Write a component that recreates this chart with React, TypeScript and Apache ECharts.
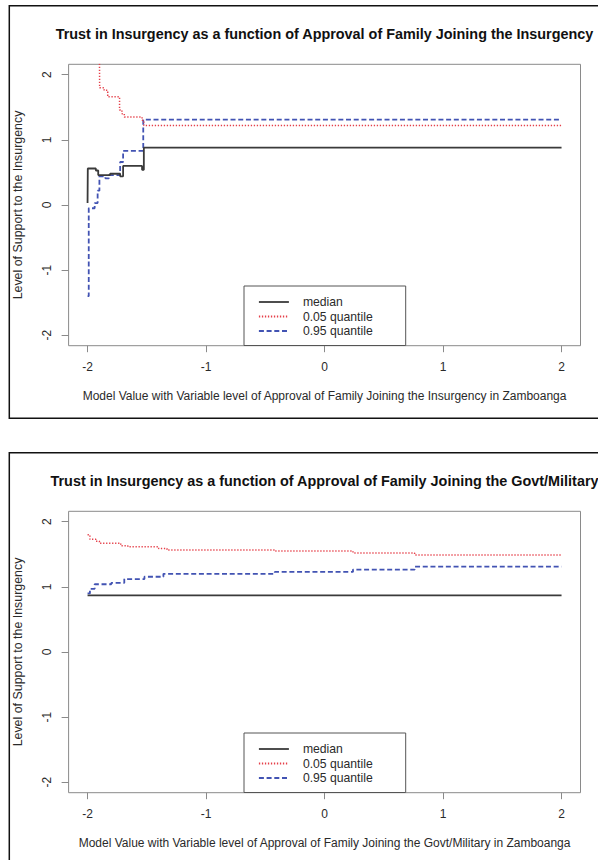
import React, { useEffect, useRef } from "react";
import * as echarts from "echarts";

// Axis ticks shared by both panels
const xTicks = [-2, -1, 0, 1, 2];
const yTicks = [-2, -1, 0, 1, 2];

// Panel 1: approval of family joining the insurgency (step breakpoints)
const insMedianX = [-2.0, -1.998, -1.93, -1.91, -1.81, -1.725, -1.7, -1.54, -1.525, 2.0];
const insMedianY = [0.03, 0.56, 0.53, 0.46, 0.48, 0.44, 0.6, 0.54, 0.88, 0.88];
const insLowX = [-1.9, -1.898, -1.86, -1.83, -1.73, -1.71, -1.69, -1.54, -1.525, 2.0];
const insLowY = [2.4, 1.8, 1.76, 1.66, 1.46, 1.4, 1.35, 1.3, 1.22, 1.22];
const insHighX = [-2.0, -1.99, -1.94, -1.915, -1.9, -1.85, -1.82, -1.725, -1.7, -1.53, 2.0];
const insHighY = [-1.4, -0.05, 0.03, 0.22, 0.44, 0.41, 0.46, 0.66, 0.83, 1.31, 1.31];

// Panel 2: approval of family joining the Govt/Military
const govMedianX = [-2.0, 2.0];
const govMedianY = [0.87, 0.87];
const govLowX = [-2.0, -1.98, -1.93, -1.9, -1.72, -1.66, -1.4, -1.33, -0.42, 0.24, 0.76, 2.0];
const govLowY = [1.8, 1.73, 1.7, 1.67, 1.63, 1.615, 1.59, 1.565, 1.55, 1.52, 1.49, 1.49];
const govHighX = [-2.0, -1.98, -1.94, -1.8, -1.69, -1.52, -1.36, -0.42, 0.24, 0.76, 2.0];
const govHighY = [0.9, 0.97, 1.04, 1.06, 1.12, 1.155, 1.2, 1.23, 1.265, 1.31, 1.31];

const seriesNames = ["median", "0.05 quantile", "0.95 quantile"];

const titles = [
  "Trust in Insurgency as a function of Approval of Family Joining the Insurgency",
  "Trust in Insurgency as a function of Approval of Family Joining the Govt/Military",
];
const xTitles = [
  "Model Value with Variable level of Approval of Family Joining the Insurgency in Zamboanga",
  "Model Value with Variable level of Approval of Family Joining the Govt/Military in Zamboanga",
];
const yTitle = "Level of Support to the Insurgency";

const FONT = '"Liberation Sans", Arial, Helvetica, sans-serif';
const PANEL_SHIFT = 447;

const lineStyles = [
  { color: "#3a3a3a", width: 1.8, type: "solid" },
  { color: "#e5404a", width: 1.5, type: [1.3, 1.7] },
  { color: "#4253b3", width: 1.8, type: [5, 2.7] },
];

function zip(xs: number[], ys: number[]) {
  return xs.map((x, i) => [x, ys[i]]);
}

export default function App() {
  const ref = useRef<HTMLDivElement>(null);

  useEffect(() => {
    if (!ref.current) return;
    const chart = echarts.init(ref.current, null, { renderer: "svg" });

    const panels = [
      [zip(insMedianX, insMedianY), zip(insLowX, insLowY), zip(insHighX, insHighY)],
      [zip(govMedianX, govMedianY), zip(govLowX, govLowY), zip(govHighX, govHighY)],
    ];

    const grids = [0, 1].map((i) => ({
      left: 68.6,
      right: 17.5,
      top: 64.3 + i * PANEL_SHIFT,
      height: 281.4,
      show: true,
      borderColor: "#8a8a8a",
      borderWidth: 1,
      backgroundColor: "transparent",
    }));

    const xAxes = [0, 1].map((i) => ({
      type: "value",
      gridIndex: i,
      position: "bottom",
      min: -2.16,
      max: 2.16,
      name: xTitles[i],
      nameLocation: "middle",
      nameGap: 44.5,
      nameTextStyle: { fontFamily: FONT, fontSize: 12, color: "#2a2a2a" },
      axisLine: { show: false, onZero: false },
      axisTick: {
        show: true,
        length: 6.5,
        customValues: xTicks,
        lineStyle: { color: "#8a8a8a", width: 1 },
      },
      axisLabel: {
        customValues: xTicks,
        margin: 15,
        fontFamily: FONT,
        fontSize: 12,
        color: "#2a2a2a",
        formatter: (v: number) => String(v),
      },
      splitLine: { show: false },
    }));

    const yAxes = [0, 1].map((i) => ({
      type: "value",
      gridIndex: i,
      position: "left",
      min: -2.16,
      max: 2.16,
      name: yTitle,
      nameLocation: "middle",
      nameGap: 45,
      nameTextStyle: { fontFamily: FONT, fontSize: 12.4, color: "#2a2a2a" },
      axisLine: { show: false, onZero: false },
      axisTick: {
        show: true,
        length: 7,
        customValues: yTicks,
        lineStyle: { color: "#8a8a8a", width: 1 },
      },
      axisLabel: {
        customValues: yTicks,
        rotate: 90,
        margin: 16,
        fontFamily: FONT,
        fontSize: 12,
        color: "#2a2a2a",
        formatter: (v: number) => String(v),
      },
      splitLine: { show: false },
    }));

    const series: any[] = [];
    panels.forEach((panel, p) => {
      panel.forEach((data, s) => {
        series.push({
          type: "line",
          name: seriesNames[s],
          xAxisIndex: p,
          yAxisIndex: p,
          data,
          step: "end",
          symbol: "none",
          clip: true,
          itemStyle: { color: lineStyles[s].color },
          lineStyle: { ...lineStyles[s], cap: "butt" },
          emphasis: { disabled: true },
          z: 3 - s,
        });
      });
    });

    const legends = [0, 1].map((i) => ({
      data: seriesNames,
      orient: "vertical",
      left: 244,
      top: 286 + i * PANEL_SHIFT,
      padding: [10, 33, 8.5, 14],
      itemWidth: 30,
      itemHeight: 14,
      itemGap: 2.5,
      borderColor: "#555",
      borderWidth: 1,
      borderRadius: 0,
      backgroundColor: "#fff",
      selectedMode: false,
      itemStyle: { opacity: 0, borderWidth: 0 },
      lineStyle: { width: 1.8 },
      textStyle: { fontFamily: FONT, fontSize: 12.2, color: "#2a2a2a", padding: [0, 0, 0, 9] },
    }));

    const titleList = [0, 1].map((i) => ({
      text: titles[i],
      left: 324.5,
      top: 27 + i * PANEL_SHIFT,
      textAlign: "center",
      padding: 0,
      textStyle: { fontFamily: FONT, fontSize: 14.4, fontWeight: "bold", color: "#111" },
    }));

    chart.setOption({
      animation: false,
      backgroundColor: "#fff",
      title: titleList,
      grid: grids,
      xAxis: xAxes,
      yAxis: yAxes,
      legend: legends,
      series,
      graphic: [0, 1].map((i) => ({
        type: "rect",
        silent: true,
        z: 10,
        shape: { x: 9.3, y: 5.7 + i * PANEL_SHIFT, width: 620, height: i === 0 ? 412.6 : 460 },
        style: { fill: "none", stroke: "#111", lineWidth: 1.5 },
      })),
    });

    return () => chart.dispose();
  }, []);

  return (
    <div
      ref={ref}
      style={{ position: "absolute", left: 0, top: 0, width: 598, height: 860, background: "#fff" }}
    />
  );
}
